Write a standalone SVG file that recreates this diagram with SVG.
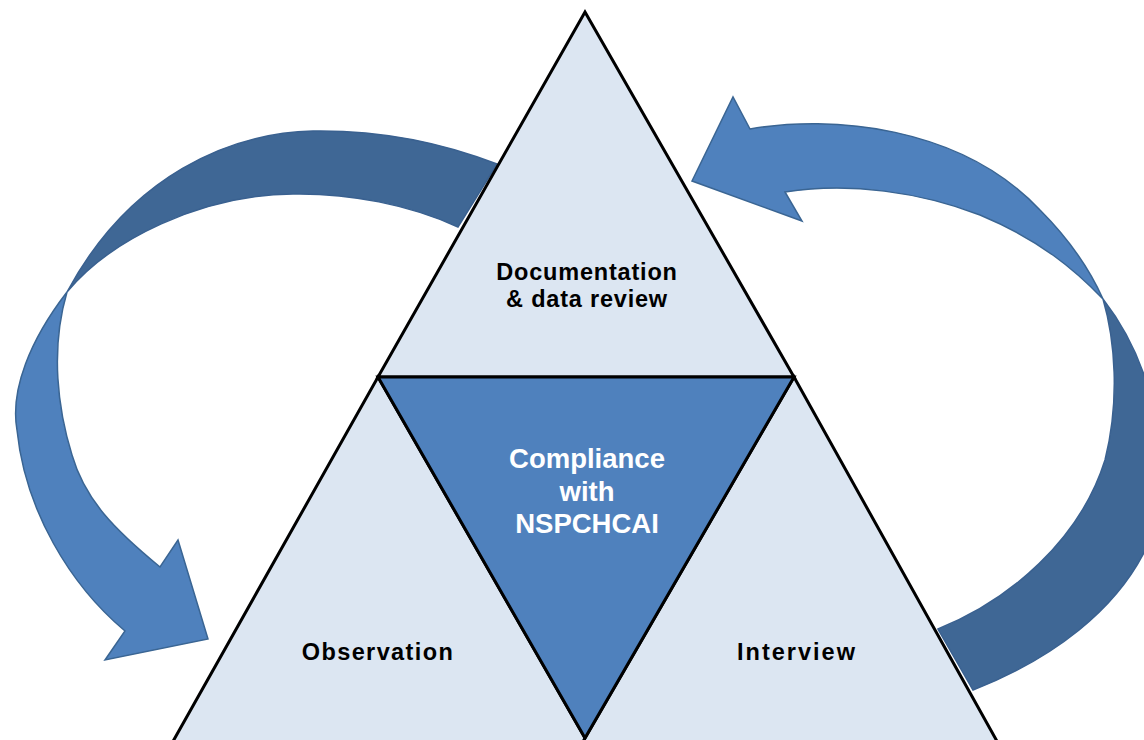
<svg xmlns="http://www.w3.org/2000/svg" width="1144" height="740" viewBox="0 0 1144 740">
<style>
.tri{fill:#DCE6F2;stroke:#000;stroke-width:3;stroke-linejoin:miter}
.core{fill:#4F81BD;stroke:#000;stroke-width:3}
.light{fill:#4F81BD;stroke:#3A6593;stroke-width:1.5;stroke-linejoin:miter}
.dark{fill:#3F6795;stroke:#3A6190;stroke-width:1.5}
.lbl{font-family:"Liberation Sans",Arial,sans-serif;font-weight:700;font-size:23.5px;letter-spacing:0.8px;fill:#000;text-anchor:middle}
.lblw{font-family:"Liberation Sans",Arial,sans-serif;font-weight:700;font-size:27.5px;fill:#fff;text-anchor:middle}
</style>
<rect width="1144" height="740" fill="#fff"/>
<g id="connectors">
<path class="dark" d="M497,164 C440,142 380,130 313,131 C230,133 130,175 67,292 C110,240 200,195 293,194 C350,193 410,205 458,227 Z"/>
<path class="light" d="M67,292 C30,340 10,390 17,430 C25,510 70,585 125,631 L105,660 L208,639 L178,540 L160,567 C115,530 85,500 72,455 C58,410 50,350 67,292 Z"/>
<path class="light" d="M692,181 L733,97 L750,129 C830,115 960,125 1040,210 C1070,240 1090,270 1103,299 C1075,270 1040,240 980,215 C920,192 850,182 785,192 L802,221 Z"/>
<path class="dark" d="M1103,299 C1150,360 1175,450 1150,540 C1120,610 1050,660 973,690 L938,629 C1010,600 1080,540 1105,460 C1120,400 1115,340 1103,299 Z"/>
</g>
<g id="node-observation">
<polygon class="tri" points="378,377 593,752 167,752"/>
<text class="lbl" x="378" y="660" style="letter-spacing:1.4px">Observation</text>
</g>
<g id="node-interview">
<polygon class="tri" points="794,377 1003,752 577,752"/>
<text class="lbl" x="797" y="660" style="letter-spacing:2px">Interview</text>
</g>
<g id="node-documentation">
<polygon class="tri" points="585,12 794,377 378,377"/>
<text class="lbl" x="587" y="280">Documentation</text>
<text class="lbl" x="587" y="307">&amp; data review</text>
</g>
<g id="node-compliance">
<polygon class="core" points="378,377 794,377 585,738"/>
<text class="lblw" x="587" y="468">Compliance</text>
<text class="lblw" x="587" y="501">with</text>
<text class="lblw" x="587" y="533">NSPCHCAI</text>
</g>
</svg>
